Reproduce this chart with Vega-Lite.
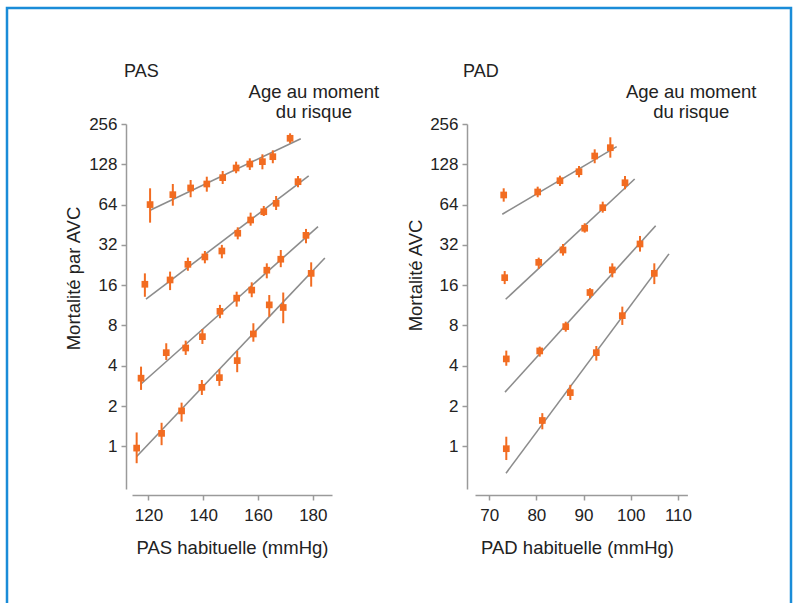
{
  "$schema": "https://vega.github.io/schema/vega-lite/v6.json",
  "autosize": "none",
  "width": 784,
  "height": 595,
  "padding": {"left": 7, "top": 8, "right": 7, "bottom": 0},
  "background": "white",
  "config": {
    "font": "Liberation Sans",
    "view": {"stroke": "#1a8cd8", "strokeWidth": 2.5, "strokeDash": [1379, 784, 595]},
    "axis": {
      "grid": false,
      "domainColor": "#9a9a9a",
      "domainWidth": 1.5,
      "tickColor": "#9a9a9a",
      "tickWidth": 1.5,
      "tickSize": 5,
      "labelFont": "Liberation Sans",
      "labelFontSize": 17,
      "labelColor": "#222222",
      "labelPadding": 4,
      "titleFont": "Liberation Sans",
      "titleFontSize": 18.5,
      "titleFontWeight": "normal",
      "titleColor": "#222222"
    }
  },
  "datasets": {
    "pas_points": [
      {"g": "80-89", "x": 120.6, "y": 64, "lo": 46.9, "hi": 84.7},
      {"g": "80-89", "x": 128.9, "y": 75.9, "lo": 62.8, "hi": 91.2},
      {"g": "80-89", "x": 135.4, "y": 85.2, "lo": 72.6, "hi": 97.7},
      {"g": "80-89", "x": 141.3, "y": 91.2, "lo": 79.9, "hi": 103.4},
      {"g": "80-89", "x": 147.1, "y": 101.7, "lo": 91.2, "hi": 114.1},
      {"g": "80-89", "x": 152.0, "y": 120.1, "lo": 109.7, "hi": 133.9},
      {"g": "80-89", "x": 157.0, "y": 128.6, "lo": 116.1, "hi": 141.9},
      {"g": "80-89", "x": 161.6, "y": 133.9, "lo": 117.4, "hi": 152},
      {"g": "80-89", "x": 165.4, "y": 145.9, "lo": 130.3, "hi": 162.8},
      {"g": "80-89", "x": 171.7, "y": 200.2, "lo": 183.7, "hi": 218.1},
      {"g": "70-79", "x": 118.7, "y": 16.25, "lo": 13.1, "hi": 19.6},
      {"g": "70-79", "x": 127.9, "y": 17.5, "lo": 14.7, "hi": 20.2},
      {"g": "70-79", "x": 134.4, "y": 22.9, "lo": 20.5, "hi": 25.7},
      {"g": "70-79", "x": 140.6, "y": 26.0, "lo": 23.3, "hi": 28.8},
      {"g": "70-79", "x": 146.8, "y": 28.8, "lo": 25.4, "hi": 32.0},
      {"g": "70-79", "x": 152.6, "y": 39.1, "lo": 35.2, "hi": 43.3},
      {"g": "70-79", "x": 157.3, "y": 49.1, "lo": 44.5, "hi": 55.7},
      {"g": "70-79", "x": 162.1, "y": 56.6, "lo": 52.6, "hi": 62.5},
      {"g": "70-79", "x": 166.6, "y": 65.4, "lo": 58.3, "hi": 74.2},
      {"g": "70-79", "x": 174.6, "y": 94.9, "lo": 86.2, "hi": 104.7},
      {"g": "60-69", "x": 117.3, "y": 3.23, "lo": 2.64, "hi": 3.94},
      {"g": "60-69", "x": 126.5, "y": 5.01, "lo": 4.42, "hi": 5.89},
      {"g": "60-69", "x": 133.6, "y": 5.43, "lo": 4.82, "hi": 6.16},
      {"g": "60-69", "x": 139.7, "y": 6.6, "lo": 5.82, "hi": 7.53},
      {"g": "60-69", "x": 146.1, "y": 10.2, "lo": 9.06, "hi": 11.4},
      {"g": "60-69", "x": 152.2, "y": 12.8, "lo": 11.06, "hi": 14.3},
      {"g": "60-69", "x": 157.7, "y": 14.7, "lo": 13.0, "hi": 16.8},
      {"g": "60-69", "x": 163.2, "y": 20.7, "lo": 18.0, "hi": 23.3},
      {"g": "60-69", "x": 168.3, "y": 25.0, "lo": 21.8, "hi": 29.3},
      {"g": "60-69", "x": 177.5, "y": 37.7, "lo": 32.9, "hi": 42.1},
      {"g": "50-59", "x": 115.7, "y": 0.97, "lo": 0.748, "hi": 1.27},
      {"g": "50-59", "x": 124.8, "y": 1.25, "lo": 1.02, "hi": 1.5},
      {"g": "50-59", "x": 132.1, "y": 1.84, "lo": 1.53, "hi": 2.12},
      {"g": "50-59", "x": 139.5, "y": 2.76, "lo": 2.42, "hi": 3.13},
      {"g": "50-59", "x": 145.9, "y": 3.26, "lo": 2.83, "hi": 3.77},
      {"g": "50-59", "x": 152.4, "y": 4.37, "lo": 3.58, "hi": 5.16},
      {"g": "50-59", "x": 158.3, "y": 6.91, "lo": 6.05, "hi": 8.31},
      {"g": "50-59", "x": 164.1, "y": 11.4, "lo": 9.3, "hi": 13.5},
      {"g": "50-59", "x": 169.2, "y": 10.9, "lo": 8.31, "hi": 14.1},
      {"g": "50-59", "x": 179.4, "y": 19.6, "lo": 15.6, "hi": 23.7}
    ],
    "pas_lines": [
      {"g": "80-89", "x": 120.8, "y": 58.3},
      {"g": "80-89", "x": 175.6, "y": 198.8},
      {"g": "70-79", "x": 119.1, "y": 12.6},
      {"g": "70-79", "x": 178.5, "y": 104.7},
      {"g": "60-69", "x": 117.2, "y": 2.91},
      {"g": "60-69", "x": 181.9, "y": 43.8},
      {"g": "50-59", "x": 115.7, "y": 0.84},
      {"g": "50-59", "x": 184.4, "y": 25.5}
    ],
    "pad_points": [
      {"g": "80-89", "x": 73.08, "y": 75.5, "lo": 67.3, "hi": 84.7},
      {"g": "80-89", "x": 80.28, "y": 79.5, "lo": 72.6, "hi": 87.1},
      {"g": "80-89", "x": 85.0, "y": 96.5, "lo": 88.2, "hi": 105.2},
      {"g": "80-89", "x": 89.03, "y": 112.7, "lo": 102.3, "hi": 124.3},
      {"g": "80-89", "x": 92.36, "y": 147.6, "lo": 130.3, "hi": 165.6},
      {"g": "80-89", "x": 95.67, "y": 170.3, "lo": 143.4, "hi": 203.7},
      {"g": "70-79", "x": 73.29, "y": 18.2, "lo": 16.3, "hi": 20.4},
      {"g": "70-79", "x": 80.5, "y": 23.7, "lo": 21.2, "hi": 25.7},
      {"g": "70-79", "x": 85.64, "y": 29.3, "lo": 26.6, "hi": 32.5},
      {"g": "70-79", "x": 90.24, "y": 42.6, "lo": 39.5, "hi": 46.4},
      {"g": "70-79", "x": 94.06, "y": 60.7, "lo": 55.7, "hi": 67.3},
      {"g": "70-79", "x": 98.78, "y": 93.2, "lo": 83.3, "hi": 104.7},
      {"g": "60-69", "x": 73.63, "y": 4.5, "lo": 4.0, "hi": 5.19},
      {"g": "60-69", "x": 80.71, "y": 5.16, "lo": 4.68, "hi": 5.56},
      {"g": "60-69", "x": 86.22, "y": 7.84, "lo": 7.19, "hi": 8.54},
      {"g": "60-69", "x": 91.36, "y": 14.1, "lo": 12.8, "hi": 15.2},
      {"g": "60-69", "x": 96.09, "y": 20.8, "lo": 18.3, "hi": 23.3},
      {"g": "60-69", "x": 101.96, "y": 32.5, "lo": 28.5, "hi": 37.3},
      {"g": "50-59", "x": 73.63, "y": 0.96, "lo": 0.79, "hi": 1.18},
      {"g": "50-59", "x": 81.26, "y": 1.56, "lo": 1.34, "hi": 1.77},
      {"g": "50-59", "x": 87.19, "y": 2.52, "lo": 2.22, "hi": 2.88},
      {"g": "50-59", "x": 92.7, "y": 5.01, "lo": 4.37, "hi": 5.62},
      {"g": "50-59", "x": 98.21, "y": 9.47, "lo": 8.07, "hi": 11.06},
      {"g": "50-59", "x": 104.99, "y": 19.6, "lo": 16.3, "hi": 23.3}
    ],
    "pad_lines": [
      {"g": "80-89", "x": 72.78, "y": 54.2},
      {"g": "80-89", "x": 97.02, "y": 173.3},
      {"g": "70-79", "x": 73.5, "y": 12.55},
      {"g": "70-79", "x": 100.83, "y": 99.4},
      {"g": "60-69", "x": 73.36, "y": 2.54},
      {"g": "60-69", "x": 105.28, "y": 44.5},
      {"g": "50-59", "x": 73.57, "y": 0.63},
      {"g": "50-59", "x": 108.1, "y": 27.4}
    ],
    "pas_title": [{"x": 111.1, "y": 626, "t": "PAS"}],
    "pas_note": [
      {"x": 180.4, "y": 444, "t": "Age au moment"},
      {"x": 180.4, "y": 315, "t": "du risque"}
    ],
    "pad_title": [{"x": 64.46, "y": 626, "t": "PAD"}],
    "pad_note": [
      {"x": 112.8, "y": 444, "t": "Age au moment"},
      {"x": 112.8, "y": 315, "t": "du risque"}
    ]
  },
  "layer": [
    {
      "encoding": {
        "x": {
          "field": "x", "type": "quantitative",
          "scale": {"domain": [114, 187], "range": [125, 325], "nice": false, "zero": false},
          "axis": {"orient": "bottom", "offset": -108, "values": [120, 140, 160, 180], "labelPadding": 7, "title": "PAS habituelle (mmHg)", "titleX": 225, "titleY": 52, "titleBaseline": "middle", "titleAlign": "center"}
        },
        "y": {
          "field": "y", "type": "quantitative",
          "scale": {"type": "log", "base": 2, "domain": [0.48, 256], "range": [481, 116], "nice": false},
          "axis": {"orient": "left", "offset": -119, "values": [1, 2, 4, 8, 16, 32, 64, 128, 256], "format": "d", "title": "Mortalité par AVC", "titleAngle": 270, "titleX": -53, "titleY": 270, "titleBaseline": "middle", "titleAlign": "center"}
        }
      },
      "layer": [
        {"data": {"name": "pas_lines"}, "mark": {"type": "line", "color": "#8c8c8c", "strokeWidth": 1.6}, "encoding": {"detail": {"field": "g"}}},
        {"data": {"name": "pas_points"}, "mark": {"type": "rule", "color": "#f26c21", "strokeWidth": 2}, "encoding": {"y": {"field": "lo", "type": "quantitative"}, "y2": {"field": "hi"}}},
        {"data": {"name": "pas_points"}, "mark": {"type": "point", "shape": "square", "filled": true, "size": 45, "color": "#f26c21", "opacity": 1}},
        {"data": {"name": "pas_title"}, "mark": {"type": "text", "align": "left", "baseline": "middle", "fontSize": 18, "color": "#222222"}, "encoding": {"text": {"field": "t"}}},
        {"data": {"name": "pas_note"}, "mark": {"type": "text", "align": "center", "baseline": "middle", "fontSize": 18.5, "color": "#222222"}, "encoding": {"text": {"field": "t"}}}
      ]
    },
    {
      "encoding": {
        "x": {
          "field": "x", "type": "quantitative",
          "scale": {"domain": [67, 112], "range": [468, 680.4], "nice": false, "zero": false},
          "axis": {"orient": "bottom", "offset": -108, "values": [70, 80, 90, 100, 110], "labelPadding": 7, "title": "PAD habituelle (mmHg)", "titleX": 570, "titleY": 52, "titleBaseline": "middle", "titleAlign": "center"}
        },
        "y": {
          "field": "y", "type": "quantitative",
          "scale": {"type": "log", "base": 2, "domain": [0.48, 256], "range": [481, 116], "nice": false},
          "axis": {"orient": "left", "offset": -460, "values": [1, 2, 4, 8, 16, 32, 64, 128, 256], "format": "d", "title": "Mortalité AVC", "titleAngle": 270, "titleX": -52, "titleY": 267, "titleBaseline": "middle", "titleAlign": "center"}
        }
      },
      "layer": [
        {"data": {"name": "pad_lines"}, "mark": {"type": "line", "color": "#8c8c8c", "strokeWidth": 1.6}, "encoding": {"detail": {"field": "g"}}},
        {"data": {"name": "pad_points"}, "mark": {"type": "rule", "color": "#f26c21", "strokeWidth": 2}, "encoding": {"y": {"field": "lo", "type": "quantitative"}, "y2": {"field": "hi"}}},
        {"data": {"name": "pad_points"}, "mark": {"type": "point", "shape": "square", "filled": true, "size": 45, "color": "#f26c21", "opacity": 1}},
        {"data": {"name": "pad_title"}, "mark": {"type": "text", "align": "left", "baseline": "middle", "fontSize": 18, "color": "#222222"}, "encoding": {"text": {"field": "t"}}},
        {"data": {"name": "pad_note"}, "mark": {"type": "text", "align": "center", "baseline": "middle", "fontSize": 18.5, "color": "#222222"}, "encoding": {"text": {"field": "t"}}}
      ]
    }
  ],
  "resolve": {"scale": {"x": "independent"}, "axis": {"x": "independent", "y": "independent"}}
}
